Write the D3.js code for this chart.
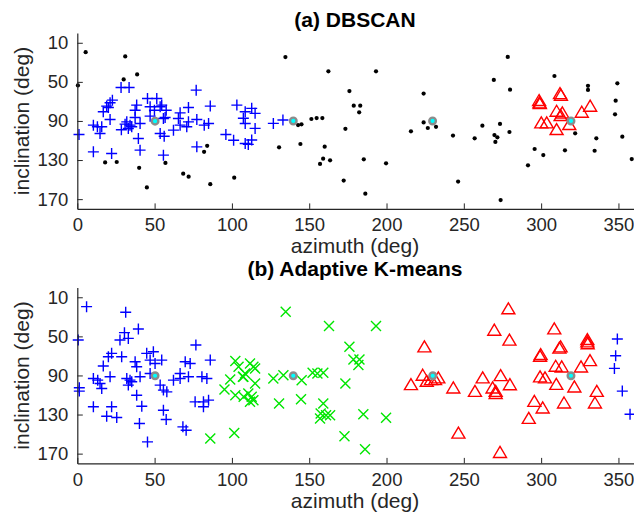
<!DOCTYPE html>
<html>
<head>
<meta charset="utf-8">
<script src="https://cdn.jsdelivr.net/npm/d3@7"></script>
<style>
  body { margin: 0; background: #fff; }
  svg { font-family: "Liberation Sans", Arial, sans-serif; }
</style>
</head>
<body>
<svg width="634" height="517"></svg>
<script>
// ---- data: [azimuth, inclination] in degrees ----
var xTicks = [0, 50, 100, 150, 200, 250, 300, 350];
var yTicks = [10, 50, 90, 130, 170];

// (a) DBSCAN
var dbBlue = [[28.3,55.7],[33.5,55.7],[76.9,58.5],[22.7,68.7],[21.2,71.4],[19,74.8],[16.8,80.6],[45.4,67],[51.4,67],
  [38.4,73.8],[37.4,79],[54.6,73.8],[57.5,79],[71.9,76.2],[66.5,81.7],[86,74.8],[103.2,73.8],[108.6,80.6],[10.4,94.3],
  [15.8,96],[21.2,88.5],[32,90.9],[34.1,94.3],[35.2,96],[33,97.7],[30.9,93.3],[40.6,92.6],[47.1,85.1],[55.7,87.5],
  [53.6,102.8],[56.2,105.6],[62.2,99.4],[66.5,94.3],[71.9,90.9],[77.3,88.5],[82.1,94.3],[1.1,103.9],[14.7,102.8],
  [10.4,121.6],[22.2,123.3],[40.6,119.9],[55.7,125],[77.3,116.5],[96.1,103.9],[101.1,109.7],[108.6,113.1],[108.6,92.6],
  [39.5,108],[13,96],[20.1,76.2],[37.4,86.5],[49.9,79],[53.6,75.5],[47.1,75.5],[65.4,87.5],[70.8,96],[84.9,92.6],
  [56.8,86.5],[28.5,99],[112.8,77.1],[115,82.2],[107.4,87.3],[115,97.6],[112.8,109.5],[110.6,114],[126.8,92.5],[133,89]];
var dbNoise = [[5.4,19.6],[31,24],[30,47.5],[38.7,42.4],[0.4,53.7],[18,132.5],[25.5,132],[40,138],[45,158],[57,133],
  [68.5,144],[72,147],[84,115.5],[82,121.6],[86,154.7],[101.5,148],
  [134.6,24.6],[162.4,39.2],[193.2,39.2],[176,59.4],[224,62],[178.8,74.4],[183,74.4],[182.3,81.2],[151.4,88],[154.8,87],
  [158.5,87],[142.8,94.2],[145,93.5],[173.4,98],[224,91.5],[226.7,97.2],[232,96],[215.8,100.6],[130.5,117],[144.3,113.6],
  [160,116.3],[159,128.6],[157,134],[163.5,130.3],[185.3,129.3],[199.7,133.4],[172.3,151],[186.3,164.4],
  [278.4,24.5],[269.4,48],[279.9,58],[308.6,44],[330.3,54],[330.3,58.3],[349.3,51.5],[348.2,69.3],[347.8,83.2],
  [243,105],[262,94.8],[257,107.8],[269.8,104.4],[271.7,106.8],[270.4,111.5],[273.4,93.1],[279.5,101.3],
  [322,102.7],[335.7,107.8],[352.5,106.1],[295.8,118.7],[301.4,124.9],[315.4,120.1],[334.6,120.5],[291.5,135.4],
  [358.6,129],[246.3,152],[273.8,171]];
var dbRed = [[298.9,72],[298.7,69.6],[299.2,72.7],[312.2,62.5],[312.8,64.2],[331.7,75.4],[326.3,81.6],[310,80.6],
  [313.7,82.3],[312.6,85],[300.1,92.5],[303.6,92.5],[310,99.3],[318.2,94.2]];
var dbCentroids = [[50.3,90.2],[139.7,90],[229.8,90],[319.3,90]];

// (b) Adaptive K-means
var kmBlue = [[6,19.6],[31.3,25.4],[39.5,42.5],[30.5,46.2],[27.6,53.8],[33,52.1],[0.6,53.8],[76.7,58.9],[22.2,67.4],
  [20.1,70.9],[16.8,80.4],[28.7,70.9],[44.9,67.4],[49.2,65.7],[37.4,76],[38.4,81.1],[54.6,74.3],[69.8,76],[73,77.7],
  [86,74.3],[10.4,93.1],[14.7,98.2],[21.2,91.4],[32,93.1],[34.1,94.8],[35.2,96.5],[33,99.9],[40.6,91.4],[47.1,88],
  [53.6,99.9],[55.7,105],[57.9,106.8],[62.2,94.8],[66.5,93.1],[71.9,91.4],[80.6,91.4],[83.8,93.1],[1.3,102.6],[1.3,106],
  [15.8,103.3],[10.4,122.1],[22.2,122.1],[19,131.7],[25.5,133.1],[41.7,121.5],[40.2,139.2],[55.7,125.6],[57.5,135.1],
  [45.4,158],[68.3,142.6],[70.4,146.1],[76.2,117],[81.6,117],[84.9,115.3],[81.6,122.1],[38.4,110.2],[13.2,94.8],
  [50.3,77.7],[66.5,88],[47.1,74.3],
  [349.3,52.7],[348.2,69.8],[347.4,82.8],[352.5,106],[357.5,129.7]];
var kmGreen = [[102.2,75.3],[104.3,81.1],[107.1,91.4],[98.9,94.1],[95.2,104.4],[102.2,110.2],[107.6,111.9],[86,154.6],
  [101.5,148.8],[134.8,24.7],[162.8,39.4],[193.2,39.4],[176,60.6],[178.6,73.6],[182.5,73.6],[181.8,79.4],[108.5,88],
  [111.7,77.7],[113.9,81.1],[115,82.8],[107.4,91.4],[110.6,108.5],[112.8,111.9],[111.7,117],[113.9,115.3],[115,98.2],
  [126.8,93],[133.3,89.7],[145.1,94.8],[152.2,87.3],[155.3,88],[159.1,87.3],[173.4,98.2],[130.5,118.7],[144.7,114.3],
  [159.1,118.7],[157.4,129],[157,134],[160.9,130.7],[163.5,130.7],[185,129.7],[199.7,133.4],[172.8,152.2],[186.1,165.6]];
var kmRed = [[278.8,22.3],[269.7,44.2],[279.5,54.4],[308.5,42.8],[329.9,53.8],[329.9,56.2],[330.1,58],[311.8,62.6],
  [312.6,61.3],[299.3,70.9],[299.7,69.1],[331.6,75.3],[325.8,81.8],[309.4,81.1],[313.3,81.8],[299.3,92],[302.5,93],
  [309.8,99.6],[321.5,102.3],[336,106.8],[334.8,118.7],[314.8,118.7],[295.6,117],[301,123.8],[292,134.4],[262.2,93],
  [273.8,90.7],[279.8,100],[268.6,103.3],[270.6,106.8],[270.6,109],[257.2,106.8],[243.2,103.3],[246.5,149.5],
  [273.4,169.3],[231.4,94.8],[224.5,61.3],[215.8,99.9],[223.4,90.3],[226,96.5],[228.8,94.8],[233.5,93]];
var kmCentroids = [[50.3,90.3],[139.7,90.3],[229.9,90.3],[319.3,90.3]];

var svg = d3.select("svg");
var x = d3.scaleLinear().domain([0, 360]).range([77.3, 633.9]);

function drawPanel(top, titleY, title, layers, centroids) {
    var y = d3.scaleLinear().domain([0, 180]).range([top, top + 175.9]);
    var g = svg.append("g");

    layers.forEach(function(layer) {
        g.append("g").selectAll("path").data(layer.data).enter().append("path")
            .attr("transform", d => "translate(" + x(d[0]) + "," + y(d[1]) + ")")
            .attr("fill", layer.fill || "none")
            .attr("stroke", layer.stroke || "none")
            .attr("stroke-width", 1.4)
            .attr("d", layer.shape);
    });

    g.append("g").selectAll("circle").data(centroids).enter().append("circle")
        .attr("cx", d => x(d[0]))
        .attr("cy", d => y(d[1]))
        .attr("r", 3.3)
        .attr("fill", "#00ffff")
        .attr("stroke", "#8c8c8c")
        .attr("stroke-width", 2.4);

    var ya = g.append("g")
        .attr("transform", "translate(" + x(0) + ",0)")
        .call(d3.axisLeft(y).tickValues(yTicks).tickSizeInner(-5.5).tickSizeOuter(0).tickPadding(9));
    var xa = g.append("g")
        .attr("transform", "translate(0," + y(180) + ")")
        .call(d3.axisBottom(x).tickValues(xTicks).tickSizeInner(-5.5).tickSizeOuter(0).tickPadding(9));
    [ya, xa].forEach(function(a) {
        a.select(".domain").attr("stroke", "#262626").attr("stroke-width", 1.2);
        a.selectAll(".tick line").attr("stroke", "#262626");
        a.selectAll("text").attr("fill", "#262626").style("font-size", "18.5px").style("font-family", "inherit");
    });

    g.append("text")
        .attr("x", 355).attr("y", titleY)
        .attr("text-anchor", "middle")
        .style("font-size", "21px").style("font-weight", "bold")
        .attr("fill", "#000")
        .text(title);
    g.append("text")
        .attr("x", 355).attr("y", top + 220)
        .attr("text-anchor", "middle")
        .style("font-size", "21px")
        .attr("fill", "#262626")
        .text("azimuth (deg)");
    g.append("text")
        .attr("transform", "translate(29," + (top + 88) + ") rotate(-90)")
        .attr("text-anchor", "middle")
        .style("font-size", "21px")
        .attr("fill", "#262626")
        .text("inclination (deg)");
}

var plus = "M-5.5,0H5.5M0,-5.5V5.5";
var cross = "M-5,-5L5,5M-5,5L5,-5";
var tri = "M0,-6.5L6.5,4.5L-6.5,4.5Z";
var dot = d3.symbol().type(d3.symbolCircle).size(14)();

drawPanel(33, 27, "(a) DBSCAN", [
    { data: dbBlue, shape: plus, stroke: "#0000ff" },
    { data: dbNoise, shape: dot, fill: "#000" },
    { data: dbRed, shape: tri, stroke: "#ff0000" }
], dbCentroids);

drawPanel(287.5, 276, "(b) Adaptive K-means", [
    { data: kmBlue, shape: plus, stroke: "#0000ff" },
    { data: kmGreen, shape: cross, stroke: "#00e600" },
    { data: kmRed, shape: tri, stroke: "#ff0000" }
], kmCentroids);
</script>
</body>
</html>
